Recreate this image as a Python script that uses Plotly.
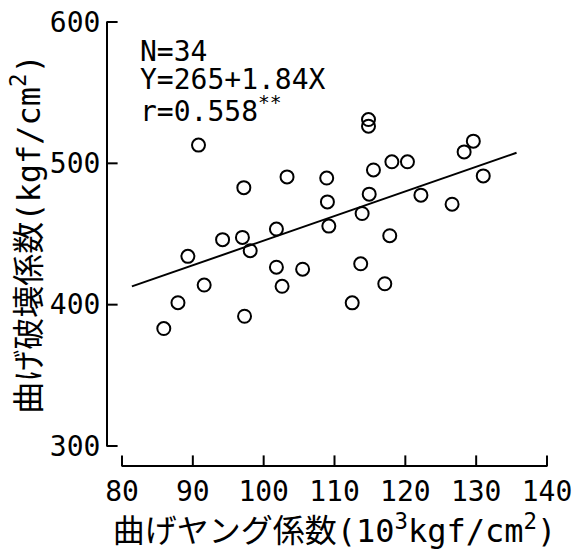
import plotly.graph_objects as go

# Data
young_modulus = [90.8, 97.2, 103.3, 108.9, 109.0, 109.2, 101.8, 97.0, 94.2, 98.1,
                 89.3, 101.8, 105.5, 91.6, 102.6, 87.9, 112.5, 97.3, 85.9, 114.8,
                 114.8, 129.6, 128.3, 118.1, 120.3, 115.5, 131.0, 114.9, 122.2, 126.6,
                 113.9, 117.8, 113.7, 117.1]
rupture_modulus = [512.9, 482.8, 490.4, 489.6, 472.7, 455.6, 453.5, 447.6, 446.0, 438.2,
                   434.2, 426.5, 425.1, 413.9, 413.0, 401.4, 401.3, 391.8, 383.1, 531.0,
                   526.3, 515.7, 508.1, 501.1, 501.1, 495.3, 491.1, 478.2, 477.5, 471.1,
                   464.5, 448.8, 428.9, 414.8]
fit_x = [81.4, 135.7]
fit_y = [412.9, 507.5]

x_ticks = [80, 90, 100, 110, 120, 130, 140]
y_ticks = [300, 400, 500, 600]

stats_lines = ["N=34", "Y=265+1.84X", "r=0.558<sup>**</sup>"]

MONO = "DejaVu Sans Mono, Noto Sans CJK JP, monospace"

W, H = 575, 556
L, R, T, B = 100, 28, 22, 86
pw, ph = W - L - R, H - T - B
X_AXIS_PX = 465          # pixel row of the detached x-axis line
Y_AXIS_PX = 108          # pixel column of the detached y-axis line
TICK_LEN = 8


def px_to_paper_x(px):
    return (px - L) / pw


def py_to_paper_y(py):
    return (H - B - py) / ph


y2_height = X_AXIS_PX - T
x2_width = (W - R) - Y_AXIS_PX

fig = go.Figure()
# tick marks of the detached x axis (inside, pointing up), placed on helper axis y2
fig.add_trace(go.Scatter(x=x_ticks, y=[TICK_LEN / 2 / y2_height] * len(x_ticks),
                         xaxis="x", yaxis="y2", mode="markers", cliponaxis=False,
                         marker=dict(symbol="line-ns", size=TICK_LEN, color="black",
                                     line=dict(width=2, color="black")),
                         showlegend=False, hoverinfo="skip"))
# tick marks of the detached y axis (inside, pointing right), placed on helper axis x2
fig.add_trace(go.Scatter(x=[TICK_LEN / 2 / x2_width] * len(y_ticks), y=y_ticks,
                         xaxis="x2", yaxis="y", mode="markers", cliponaxis=False,
                         marker=dict(symbol="line-ew", size=TICK_LEN, color="black",
                                     line=dict(width=2, color="black")),
                         showlegend=False, hoverinfo="skip"))
# regression line and points
fig.add_trace(go.Scatter(x=fit_x, y=fit_y, mode="lines", xaxis="x", yaxis="y",
                         line=dict(color="black", width=2), showlegend=False,
                         hoverinfo="skip"))
fig.add_trace(go.Scatter(x=young_modulus, y=rupture_modulus, mode="markers",
                         xaxis="x", yaxis="y",
                         marker=dict(symbol="circle-open", size=13, color="black",
                                     line=dict(width=2, color="black")),
                         showlegend=False))

fig.update_layout(
    template="simple_white",
    width=W, height=H,
    margin=dict(l=L, r=R, t=T, b=B, autoexpand=False),
    paper_bgcolor="white", plot_bgcolor="rgba(0,0,0,0)",
    font=dict(family=MONO, color="black", size=28),
    xaxis=dict(
        range=[80, 140], domain=[px_to_paper_x(122), 1], anchor="y2",
        tickvals=x_ticks, ticktext=[str(v) for v in x_ticks],
        showline=True, linecolor="black", linewidth=2,
        ticks="", showgrid=False, zeroline=False,
        tickfont=dict(family=MONO, size=28, color="black"),
        title=dict(text="曲げヤング係数(10<sup>3</sup>kgf/cm<sup>2</sup>)",
                   font=dict(family=MONO, size=32, color="black"), standoff=0),
    ),
    yaxis=dict(
        range=[300, 600], domain=[py_to_paper_y(446), 1], anchor="x2",
        tickvals=y_ticks, ticktext=[str(v) for v in y_ticks],
        showline=True, linecolor="black", linewidth=2,
        ticks="", showgrid=False, zeroline=False,
        tickfont=dict(family=MONO, size=28, color="black"),
        title=dict(text="曲げ破壊係数(kgf/cm<sup>2</sup>)",
                   font=dict(family=MONO, size=32, color="black"), standoff=0),
    ),
    xaxis2=dict(domain=[px_to_paper_x(Y_AXIS_PX), 1], anchor="y", visible=False,
                range=[0, 1]),
    yaxis2=dict(domain=[py_to_paper_y(X_AXIS_PX), 1], anchor="x", visible=False,
                range=[0, 1]),
)

for text, py in zip(stats_lines, [51, 79, 110]):
    fig.add_annotation(text=text, xref="paper", yref="paper",
                       x=px_to_paper_x(138), y=py_to_paper_y(py),
                       xanchor="left", yanchor="middle", showarrow=False,
                       font=dict(family=MONO, size=28, color="black"))

fig.write_html("out.html", config={"displayModeBar": False},
               post_script="document.body.style.margin='0px';")
